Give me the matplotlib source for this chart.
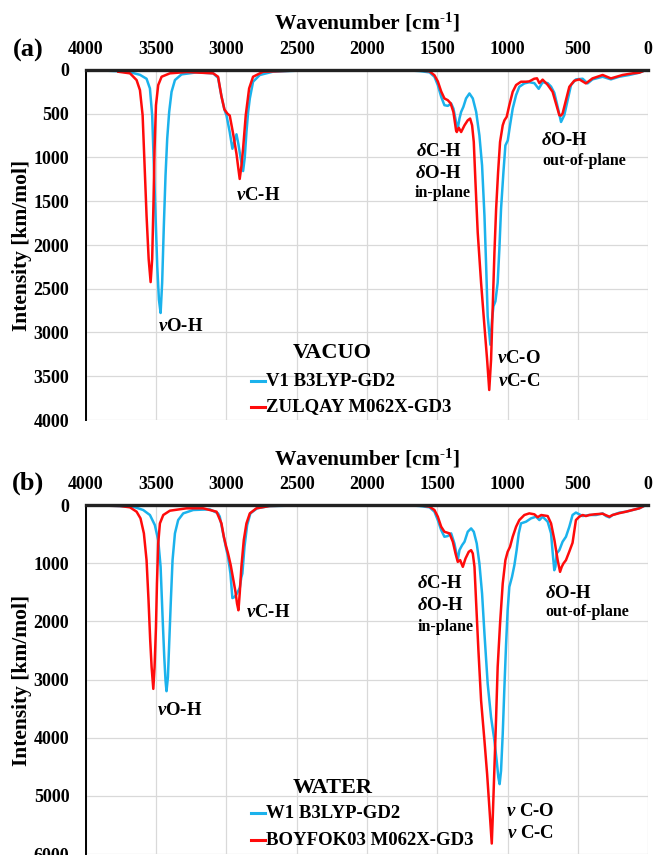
import matplotlib
matplotlib.use('Agg')
import matplotlib.pyplot as plt
import numpy as np

plt.rcParams['font.family'] = ['Liberation Serif', 'DejaVu Serif']
plt.rcParams['font.weight'] = 'bold'
plt.rcParams['mathtext.fontset'] = 'custom'
plt.rcParams['mathtext.rm'] = 'Liberation Serif:bold'
plt.rcParams['mathtext.it'] = 'Liberation Serif:italic'
plt.rcParams['mathtext.bf'] = 'Liberation Serif:bold'

# ---------------- data (wavenumber [cm-1], intensity [km/mol]) ----------------
vac_b3lyp_wn = [3945, 3850, 3760, 3664, 3616, 3569, 3545, 3529, 3517, 3505, 3493, 3481, 3469,
                3458, 3446, 3434, 3422, 3408, 3391, 3367, 3320, 3213, 3095, 3060, 3036, 3015,
                3000, 2977, 2958, 2945, 2929, 2915, 2900, 2882, 2870, 2858, 2846, 2834, 2811,
                2763, 2669, 2500, 2000, 1700, 1626, 1555, 1520, 1496, 1472, 1449, 1425, 1401,
                1385, 1366, 1354, 1342, 1330, 1314, 1295, 1271, 1247, 1223, 1200, 1181, 1164,
                1152, 1141, 1122, 1110, 1100, 1086, 1070, 1058, 1046, 1029, 1015, 998, 982,
                963, 939, 916, 880, 845, 809, 778, 750, 714, 690, 667, 643, 619, 596, 572,
                548, 513, 465, 430, 395, 323, 264, 205, 134, 63, 15]
vac_b3lyp_int = [3, 8, 15, 35, 55, 100, 211, 517, 1091, 1666, 2240, 2623, 2777,
                 2432, 1781, 1206, 785, 479, 249, 115, 50, 27, 38, 90, 300, 450,
                 520, 709, 900, 820, 735, 850, 1000, 1155, 1000, 709, 480, 325, 134,
                 57, 19, 8, 3, 5, 12, 27, 77, 172, 306, 402, 410, 383,
                 441, 594, 670, 555, 479, 421, 325, 268, 325, 479, 747, 1091, 1666,
                 2240, 2815, 3140, 2853, 2700, 2643, 2432, 2049, 1589, 1168, 862, 804, 632,
                 441, 287, 192, 153, 140, 150, 215, 140, 150, 190, 260, 421, 594, 517, 345,
                 172, 107, 100, 153, 107, 77, 107, 77, 57, 31, 0]

vac_m062x_wn = [3770, 3687, 3640, 3616, 3597, 3583, 3569, 3554, 3540, 3529, 3519, 3512, 3502,
                3486, 3462, 3403, 3284, 3095, 3060, 3036, 3015, 2993, 2977, 2953, 2929, 2917,
                2906, 2894, 2882, 2863, 2839, 2811, 2740, 2500, 2000, 1700, 1626, 1555, 1520,
                1496, 1472, 1449, 1425, 1405, 1385, 1366, 1361, 1347, 1330, 1306, 1283, 1266,
                1252, 1240, 1228, 1212, 1188, 1164, 1145, 1130, 1117, 1105, 1093, 1081, 1067,
                1053, 1034, 1022, 1006, 987, 963, 939, 904, 868, 845, 810, 790, 773, 750, 714,
                679, 655, 631, 619, 608, 584, 560, 525, 489, 442, 395, 323, 264, 181, 110, 63, 15]
vac_m062x_int = [20, 38, 115, 230, 517, 1091, 1666, 2160, 2424, 2160, 1470, 900, 402,
                 172, 77, 38, 23, 38, 77, 300, 450, 500, 520, 727, 957, 1110,
                 1245, 1100, 900, 517, 211, 77, 20, 6, 2, 3, 5, 15, 60,
                 130, 245, 325, 345, 380, 480, 690, 709, 660, 709, 632, 575, 555,
                 632, 823, 1283, 1857, 2432, 2930, 3313, 3657, 3313, 2700, 2087, 1589, 1168,
                 823, 632, 575, 536, 402, 249, 172, 134, 134, 130, 100, 95, 150, 110, 170,
                 249, 383, 517, 520, 498, 345, 192, 123, 107, 153, 96, 57, 96, 57, 38, 31, 0]

wat_b3lyp_wn = [3945, 3800, 3664, 3593, 3545, 3510, 3486, 3469, 3455, 3443, 3434, 3427, 3417,
                3408, 3396, 3384, 3367, 3344, 3308, 3237, 3119, 3060, 3048, 3024, 3005, 2989,
                2972, 2958, 2945, 2930, 2915, 2905, 2895, 2887, 2872, 2853, 2830, 2782, 2700,
                2500, 2000, 1700, 1626, 1555, 1520, 1496, 1472, 1449, 1425, 1401, 1378, 1354,
                1342, 1323, 1306, 1283, 1259, 1240, 1219, 1200, 1181, 1164, 1141, 1117, 1093,
                1077, 1065, 1056, 1046, 1034, 1022, 1010, 999, 987, 968, 951, 935, 920, 904,
                868, 833, 797, 773, 750, 714, 690, 678, 667, 659, 650, 631, 608, 584, 560, 537,
                513, 465, 418, 370, 323, 299, 275, 252, 204, 157, 110, 62, 15]
wat_b3lyp_int = [5, 15, 29, 86, 172, 345, 603, 1063, 1925, 2615, 3017, 3201, 2960,
                 2385, 1638, 948, 488, 259, 144, 86, 75, 144, 200, 488, 718, 891,
                 1178, 1600, 1585, 1540, 1470, 1420, 1250, 1178, 718, 345, 144, 57, 20,
                 8, 3, 5, 17, 40, 115, 259, 431, 546, 534, 488, 661, 948,
                 776, 690, 632, 460, 402, 460, 661, 1006, 1523, 2213, 3075, 3649, 4052,
                 4396, 4684, 4799, 4569, 3937, 3132, 2385, 1810, 1408, 1236, 1035, 776, 488, 316,
                 287, 230, 201, 259, 201, 287, 488, 833, 1121, 1063, 833, 776, 632, 546, 374, 172,
                 130, 190, 172, 172, 144, 190, 213, 172, 132, 115, 86, 57, 0]

wat_m062x_wn = [3995, 3850, 3758, 3687, 3640, 3612, 3588, 3569, 3555, 3543, 3533, 3521, 3512,
                3502, 3495, 3486, 3474, 3450, 3403, 3285, 3166, 3071, 3036, 3019, 3005, 2989,
                2970, 2953, 2936, 2925, 2915, 2906, 2894, 2877, 2858, 2834, 2787, 2692, 2500,
                2000, 1700, 1626, 1555, 1520, 1496, 1472, 1449, 1413, 1389, 1370, 1354, 1337,
                1318, 1299, 1276, 1259, 1247, 1235, 1224, 1207, 1188, 1164, 1145, 1129, 1112,
                1105, 1093, 1081, 1070, 1053, 1034, 1015, 999, 982, 963, 939, 916, 880, 845,
                809, 785, 760, 714, 690, 666, 643, 626, 614, 602, 584, 560, 537, 513, 489, 465,
                442, 418, 380, 323, 275, 252, 204, 157, 110, 62, 15]
wat_m062x_int = [5, 12, 17, 40, 115, 230, 488, 948, 1638, 2328, 2787, 3161, 2787,
                 2098, 1350, 661, 316, 172, 98, 57, 57, 115, 316, 546, 690, 833,
                 1035, 1264, 1494, 1695, 1810, 1523, 1063, 603, 316, 144, 57, 17, 6,
                 2, 3, 5, 29, 86, 201, 374, 460, 488, 632, 833, 977, 948,
                 1063, 920, 805, 776, 833, 1063, 1638, 2500, 3362, 4052, 4627, 5201, 5820,
                 5373, 4511, 3649, 2787, 2040, 1350, 948, 805, 718, 546, 374, 259, 172, 144,
                 160, 210, 172, 190, 316, 603, 948, 1149, 1063, 1006, 948, 800, 650, 259, 201, 172,
                 190, 172, 160, 150, 201, 172, 140, 115, 86, 57, 0]

x_ticks = [4000, 3500, 3000, 2500, 2000, 1500, 1000, 500, 0]
vac_y_ticks = [0, 500, 1000, 1500, 2000, 2500, 3000, 3500, 4000]
wat_y_ticks = [0, 1000, 2000, 3000, 4000, 5000, 6000]

BLUE = '#1BB2EC'
RED = '#FF0B0B'

W, H = 654, 855
fig = plt.figure(figsize=(W / 100, H / 100), dpi=100)


def add_ax(left, top, right, bottom):
    return fig.add_axes([left / W, 1 - bottom / H, (right - left) / W, (bottom - top) / H])


def ftext(x, y, s, **kw):
    fig.text(x / W, 1 - y / H, s, **kw)


def style(ax, yticks):
    ax.set_xlim(4000, 0)
    ax.set_ylim(yticks[-1], 0)
    ax.set_xticks(x_ticks)
    ax.set_yticks(yticks)
    ax.xaxis.tick_top()
    ax.tick_params(length=0, labelsize=13)
    ax.tick_params(axis='x', pad=9)
    ax.tick_params(axis='y', pad=12)
    ax.grid(True, color='#d9d9d9', lw=0.9)
    ax.set_axisbelow(True)
    for s in ['bottom', 'right']:
        ax.spines[s].set_visible(False)
    ax.spines['top'].set_linewidth(2.4)
    ax.spines['top'].set_color('#222222')
    ax.spines['left'].set_linewidth(1.4)
    ax.spines['left'].set_zorder(5)
    ax.spines['top'].set_zorder(5)
    for lab in ax.get_xticklabels() + ax.get_yticklabels():
        lab.set_fontweight('bold')


def legend_block(title, title_xy, entries):
    tx, ty = title_xy
    ftext(tx, ty, title, fontsize=16, fontweight='bold', ha='left', va='center')
    for (label, color, y) in entries:
        ln = plt.Line2D([251 / W, 265 / W], [1 - y / H, 1 - y / H], transform=fig.transFigure,
                        color=color, lw=2.2)
        fig.add_artist(ln)
        ftext(266, y, label, fontsize=13.5, fontweight='bold', ha='left', va='center')


XLABEL = r'Wavenumber [cm$^{\text{-1}}$]'

LW = 1.8
# ---------------- panel (a) ----------------
ax1 = add_ax(86, 70, 648, 420)
style(ax1, vac_y_ticks)
ax1.plot(vac_b3lyp_wn, vac_b3lyp_int, color=BLUE, lw=LW, zorder=3)
ax1.plot(vac_m062x_wn, vac_m062x_int, color=RED, lw=LW, zorder=4)

ftext(367, 23, XLABEL, fontsize=15.5, fontweight='bold', ha='center', va='center')
ftext(28, 50, '(a)', fontsize=19, fontweight='bold', ha='center', va='center')
ftext(22, 245, 'Intensity [km/mol]', fontsize=15.5, fontweight='bold', ha='center', va='center',
      rotation=90)

kw = dict(fontsize=13.5, fontweight='bold', va='center')
ax1.text(3325, 2937, r'$\nu$O-H', ha='center', **kw)
ax1.text(2774, 1440, r'$\nu$C-H', ha='center', **kw)
ax1.text(1491, 926, r'$\delta$C-H', ha='center', **kw)
ax1.text(1491, 1183, r'$\delta$O-H', ha='center', **kw)
ax1.text(1459, 1406, 'in-plane', ha='center', fontsize=11.5, fontweight='bold', va='center')
ax1.text(919, 3297, r'$\nu$C-O', ha='center', **kw)
ax1.text(919, 3560, r'$\nu$C-C', ha='center', **kw)
ax1.text(596, 806, r'$\delta$O-H', ha='center', **kw)
ax1.text(457, 1040, 'out-of-plane', ha='center', fontsize=11.5, fontweight='bold', va='center')

legend_block('VACUO', (293, 353),
             [('V1 B3LYP-GD2', BLUE, 381), ('ZULQAY M062X-GD3', RED, 407)])

# ---------------- panel (b) ----------------
ax2 = add_ax(86, 505, 648, 854)
style(ax2, wat_y_ticks)
ax2.plot(wat_b3lyp_wn, wat_b3lyp_int, color=BLUE, lw=LW, zorder=3)
ax2.plot(wat_m062x_wn, wat_m062x_int, color=RED, lw=LW, zorder=4)

ftext(367, 459, XLABEL, fontsize=15.5, fontweight='bold', ha='center', va='center')
ftext(28, 483, '(b)', fontsize=19, fontweight='bold', ha='center', va='center')
ftext(22, 680, 'Intensity [km/mol]', fontsize=15.5, fontweight='bold', ha='center', va='center',
      rotation=90)

ax2.text(3335, 3541, r'$\nu$O-H', ha='center', **kw)
ax2.text(2703, 1848, r'$\nu$C-H', ha='center', **kw)
ax2.text(1480, 1358, r'$\delta$C-H', ha='center', **kw)
ax2.text(1480, 1736, r'$\delta$O-H', ha='center', **kw)
ax2.text(1438, 2097, 'in-plane', ha='center', fontsize=11.5, fontweight='bold', va='center')
ax2.text(837, 5269, r'$\nu$ C-O', ha='center', **kw)
ax2.text(837, 5647, r'$\nu$ C-C', ha='center', **kw)
ax2.text(564, 1521, r'$\delta$O-H', ha='center', **kw)
ax2.text(429, 1848, 'out-of-plane', ha='center', fontsize=11.5, fontweight='bold', va='center')

legend_block('WATER', (293, 788),
             [('W1 B3LYP-GD2', BLUE, 813), ('BOYFOK03 M062X-GD3', RED, 840)])

fig.savefig('out.png', dpi=100)
